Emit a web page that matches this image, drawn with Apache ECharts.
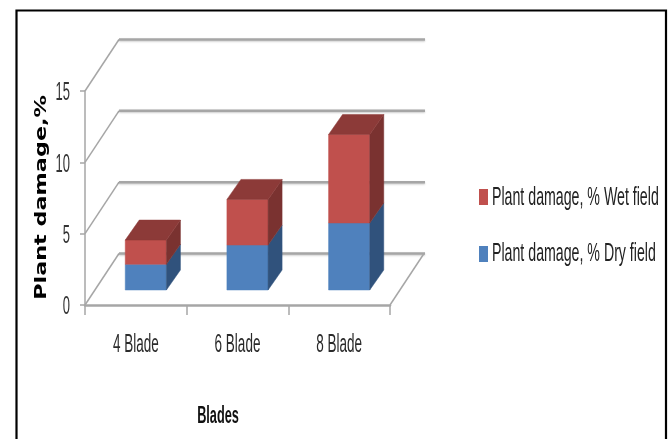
<!DOCTYPE html>
<html>
<head>
<meta charset="utf-8">
<style>
  html, body { margin: 0; padding: 0; background: #fff; }
  #chart { width: 671px; height: 439px; }
</style>
<script src="https://cdn.jsdelivr.net/npm/echarts@6/dist/echarts.min.js"></script>
</head>
<body>
<div id="chart"></div>
<script>
const categories = ['4 Blade', '6 Blade', '8 Blade']
const dryField = [1.8, 3.15, 4.7]
const wetField = [1.7, 3.2, 6.2]
const yTicks = [0, 5, 10, 15]
const dryName = 'Plant damage, % Dry field'
const wetName = 'Plant damage, % Wet field'
const xTitle = 'Blades'
const yTitle = 'Plant damage,%'

const FONT = '"Liberation Sans", sans-serif'
// 3d look: wall depth and the shift of the bars off the front edge
const WALL_DX = 34, WALL_DY = -51.5
const BAR_DX = 10, BAR_DY = -15
const DEPTH_DX = 14, DEPTH_DY = -20
const BAR_RATIO = 0.405
const GRID_COLOR = '#a6a6a6'

const poly = (points, fill) => ({
  type: 'polygon',
  shape: { points },
  style: { fill, stroke: fill, lineWidth: 0.5 }
})

// the source text is squeezed sideways, so labels are scaled text elements
const squeezed = (text, x, y, fontSize, scaleX, align, extra) => ({
  type: 'text',
  x,
  y,
  scaleX,
  style: Object.assign({
    text,
    fontFamily: FONT,
    fontSize,
    fill: '#222',
    align,
    verticalAlign: 'middle'
  }, extra)
})

// floor and back wall lines, with the y tick label, one item per tick
function renderWall(params, api) {
  const v = api.value(0)
  const y = api.coord([0, v])[1]
  const x0 = params.coordSys.x
  const x1 = x0 + params.coordSys.width
  const bx = x0 + WALL_DX
  const by = y + WALL_DY
  const children = [
    {
      type: 'line',
      shape: { x1: x0, y1: y, x2: bx, y2: by },
      style: { stroke: GRID_COLOR, lineWidth: 1.5 }
    },
    {
      type: 'line',
      shape: { x1: bx, y1: by, x2: x1 + WALL_DX + 1, y2: by },
      style: { stroke: GRID_COLOR, lineWidth: 2.5, shadowColor: 'rgba(0,0,0,0.2)', shadowBlur: 2, shadowOffsetY: 1 }
    },
    squeezed(String(v), x0 - 15, y + 2.5, 25, 0.52, 'right', { fill: '#333' })
  ]
  if (v === 0) {
    children.push({
      type: 'line',
      shape: { x1: x1, y1: y, x2: x1 + WALL_DX, y2: by },
      style: { stroke: GRID_COLOR, lineWidth: 1.5 }
    })
  }
  return { type: 'group', children }
}

function renderCategoryLabel(params, api) {
  const i = api.value(0)
  const [cx, y] = api.coord([i, 0])
  return squeezed(categories[i], cx, y + 40, 25, 0.54, 'center', { fill: '#2a2a2a' })
}

function barRenderer(front, side, top, withTop) {
  return function (params, api) {
    const cat = api.value(0)
    const [cx, yBase] = api.coord([cat, api.value(1)])
    const yTop = api.coord([cat, api.value(2)])[1]
    const w = api.size([1, 0])[0] * BAR_RATIO
    const l = cx - w / 2 + BAR_DX
    const r = l + w
    const b = yBase + BAR_DY
    const t = yTop + BAR_DY
    const children = [
      poly([[l, b], [r, b], [r, t], [l, t]], front),
      poly([[r, b], [r + DEPTH_DX, b + DEPTH_DY], [r + DEPTH_DX, t + DEPTH_DY], [r, t]], side)
    ]
    if (withTop) {
      children.push(poly([[l, t], [r, t], [r + DEPTH_DX, t + DEPTH_DY], [l + DEPTH_DX, t + DEPTH_DY]], top))
    }
    return { type: 'group', children }
  }
}

const option = {
  animation: false,
  backgroundColor: '#fff',
  graphic: [
    {
      type: 'polyline',
      shape: { points: [[16.5, 439], [16.5, 10.5], [666, 10.5], [666, 439]] },
      style: { stroke: '#000', lineWidth: 2.2, fill: 'none' },
      z: 10
    },
    squeezed(wetName, 492, 198, 25, 0.567, 'left'),
    squeezed(dryName, 492, 254, 25, 0.567, 'left'),
    squeezed(xTitle, 218, 416, 24, 0.53, 'center', { fontWeight: 'bold', fill: '#111' }),
    Object.assign(
      squeezed(yTitle, 41.5, 197.5, 15.5, 1.44, 'center', { fontFamily: '"DejaVu Sans"', fontWeight: 'bold', fill: '#000' }),
      { rotation: Math.PI / 2 }
    )
  ],
  grid: { left: 85, top: 91, width: 305, height: 214 },
  // swatches only, the squeezed names are drawn above
  legend: {
    orient: 'vertical',
    left: 474,
    top: 184,
    itemWidth: 9,
    itemHeight: 16,
    itemGap: 41,
    icon: 'rect',
    data: [wetName, dryName],
    formatter: () => ''
  },
  xAxis: {
    type: 'category',
    data: categories,
    axisLine: { lineStyle: { color: GRID_COLOR, width: 2.5 } },
    axisTick: { show: true, length: 10, lineStyle: { color: GRID_COLOR, width: 1.5 } },
    axisLabel: { show: false },
    splitLine: { show: false }
  },
  yAxis: {
    type: 'value',
    min: 0,
    max: 15,
    interval: 5,
    axisLine: { show: true, onZero: false, lineStyle: { color: GRID_COLOR, width: 1.5 } },
    axisTick: { show: true, length: 5, lineStyle: { color: GRID_COLOR, width: 1.5 } },
    axisLabel: { show: false },
    splitLine: { show: false }
  },
  series: [
    {
      type: 'custom',
      name: 'wall',
      silent: true,
      renderItem: renderWall,
      encode: { y: 0 },
      data: yTicks.map(v => [v]),
      z: 1
    },
    {
      type: 'custom',
      name: 'category labels',
      silent: true,
      renderItem: renderCategoryLabel,
      encode: { x: 0 },
      data: categories.map((c, i) => [i]),
      z: 1
    },
    {
      type: 'custom',
      name: dryName,
      itemStyle: { color: '#4f81bd' },
      renderItem: barRenderer('#4f81bd', '#30527c', '#30527c', false),
      encode: { x: 0, y: 2 },
      data: categories.map((c, i) => [i, 0, dryField[i]]),
      z: 2
    },
    {
      type: 'custom',
      name: wetName,
      itemStyle: { color: '#c0504d' },
      renderItem: barRenderer('#c0504d', '#7a3230', '#8c3a38', true),
      encode: { x: 0, y: 2 },
      data: categories.map((c, i) => [i, dryField[i], dryField[i] + wetField[i]]),
      z: 3
    }
  ]
}

const chart = echarts.init(document.getElementById('chart'), null, { renderer: 'canvas' })
chart.setOption(option)
</script>
</body>
</html>
